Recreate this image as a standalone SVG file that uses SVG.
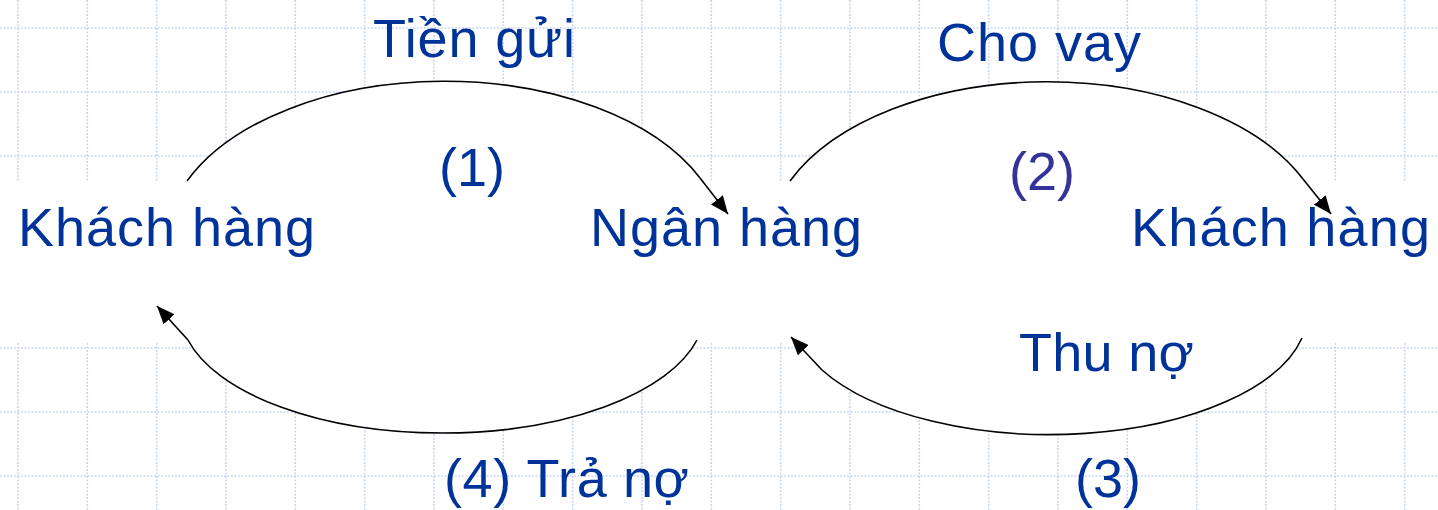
<svg xmlns="http://www.w3.org/2000/svg" width="1438" height="510" viewBox="0 0 1438 510">
<style>
.grid{fill:none;stroke:#cbd6f7;stroke-width:1.6;stroke-dasharray:2 1.5}
.mask{fill:#fff;stroke:none}
.arc{fill:none;stroke:#000;stroke-width:1.6}
.stem{fill:none;stroke:#000;stroke-width:1.6;marker-end:url(#ah)}
.t{font-family:"Liberation Sans",Arial,sans-serif;font-size:54px;fill:#003399}
.p2{fill:#333399}
</style>
<defs>
<marker id="ah" markerUnits="userSpaceOnUse" markerWidth="19" markerHeight="15" refX="18" refY="7.5" orient="auto">
<path d="M0,0 L18,7.5 L0,15 Z" fill="#000"/>
</marker>
</defs>
<rect width="1438" height="510" fill="#fff"/>
<g id="grid">
<path class="grid" d="M18,0V510M87.3,0V510M156.7,0V510M226,0V510M295.3,0V510M364.7,0V510M434,0V510M503.3,0V510M572.7,0V510M642,0V510M711.3,0V510M780.7,0V510M850,0V510M919.3,0V510M988.7,0V510M1058,0V510M1127.3,0V510M1196.7,0V510M1266,0V510M1335.3,0V510M1404.7,0V510M0,28H1438M0,92H1438M0,156H1438M0,220H1438M0,284H1438M0,348H1438M0,412H1438M0,476H1438"/>
</g>
<g id="masks">
<rect class="mask" x="0" y="181" width="1438" height="162"/>
<path class="mask" d="M187,181 A280,164 0 0,1 700,178 L727,213 Z"/>
<path class="mask" d="M790,181 A280,164 0 0,1 1303,179 L1330,213 Z"/>
<path class="mask" d="M697,340 A262,122 0 0,1 188,340 L158,307 Z"/>
<path class="mask" d="M1302,338 A258,122 0 0,1 822,370 L792,338 Z"/>
</g>
<g id="connectors">
<path class="arc" d="M187,181 A280,164 0 0,1 700,178"/>
<path class="stem" d="M700,178 L728,214"/>
<path class="arc" d="M790,181 A280,164 0 0,1 1303,179"/>
<path class="stem" d="M1303,179 L1331,214"/>
<path class="arc" d="M697,340 A262,122 0 0,1 188,340"/>
<path class="stem" d="M188,340 L157,306"/>
<path class="arc" d="M1302,338 A258,122 0 0,1 822,370"/>
<path class="stem" d="M822,370 L791,337"/>
</g>
<g id="node-khach-hang-left"><text class="t" x="18" y="246" textLength="297" lengthAdjust="spacing">Khách hàng</text></g>
<g id="node-ngan-hang"><text class="t" x="590" y="246" textLength="272" lengthAdjust="spacing">Ngân hàng</text></g>
<g id="node-khach-hang-right"><text class="t" x="1131" y="246" textLength="299" lengthAdjust="spacing">Khách hàng</text></g>
<g id="labels">
<text class="t" x="373" y="57" textLength="202" lengthAdjust="spacing">Tiền gửi</text>
<text class="t" x="439" y="186">(1)</text>
<text class="t" x="937" y="61" textLength="204" lengthAdjust="spacing">Cho vay</text>
<text class="t p2" x="1009" y="190">(2)</text>
<text class="t" x="1019" y="371" textLength="175" lengthAdjust="spacing">Thu nợ</text>
<text class="t" x="1075" y="497">(3)</text>
<text class="t" x="444" y="497" textLength="245" lengthAdjust="spacing">(4) Trả nợ</text>
</g>
</svg>
